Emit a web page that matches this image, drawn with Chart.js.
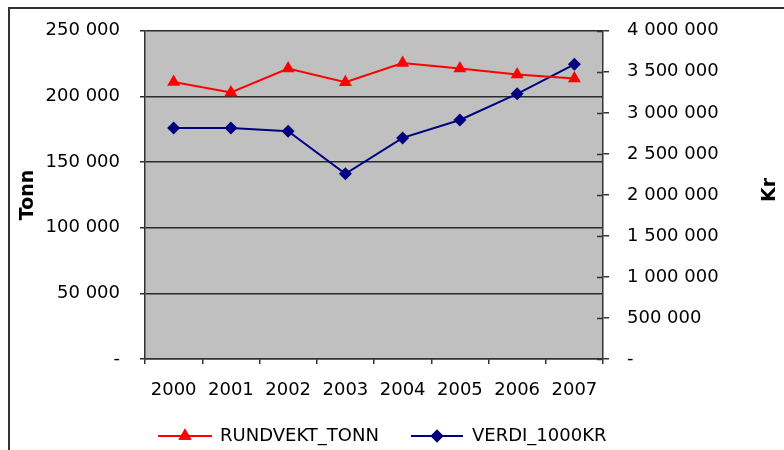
<!DOCTYPE html>
<html>
<head>
<meta charset="utf-8">
<script src="https://cdn.jsdelivr.net/npm/chart.js@4/dist/chart.umd.min.js"></script>
<style>
  html, body { margin: 0; padding: 0; background: #fff; }
  #wrap { width: 784px; height: 450px; position: relative; }
</style>
</head>
<body>
<div id="wrap"><canvas id="chart"></canvas></div>
<script>
'use strict';

// data
var years = ['2000', '2001', '2002', '2003', '2004', '2005', '2006', '2007'];
var rundvektTonn = [211000, 203000, 221200, 210800, 225400, 221200, 216700, 213600];
var verdi1000kr = [2816000, 2816000, 2776000, 2258000, 2695000, 2913000, 3232000, 3592000];

var leftTicks = { min: 0, max: 250000, step: 50000 };
var rightTicks = { min: 0, max: 4000000, step: 500000 };
var leftTitle = 'Tonn';
var rightTitle = 'Kr';

var FONT = 'DejaVu Sans';
var RED = '#ff0000';
var NAVY = '#000080';

function fmt(v) {
    if (v === 0) return '-';
    return String(v).replace(/\B(?=(\d{3})+(?!\d))/g, ' ');
}

var decor = {
    id: 'decor',
    beforeDraw: function (chart) {
        var ctx = chart.ctx, a = chart.chartArea;
        ctx.save();
        ctx.fillStyle = '#c0c0c0';
        ctx.fillRect(a.left, a.top, a.right - a.left, a.bottom - a.top);
        ctx.restore();
    },
    afterDraw: function (chart) {
        var ctx = chart.ctx, a = chart.chartArea;
        ctx.save();
        // outer frame, runs off the right and bottom edges
        ctx.strokeStyle = '#333';
        ctx.lineWidth = 2;
        ctx.strokeRect(9, 8, 820, 480);

        // right axis tick marks also poke into the plot
        var s2 = chart.scales.y2;
        ctx.strokeStyle = '#333';
        ctx.lineWidth = 1.5;
        s2.ticks.forEach(function (t) {
            var py = Math.round(s2.getPixelForValue(t.value)) + 0.5;
            ctx.beginPath();
            ctx.moveTo(a.right - 6, py);
            ctx.lineTo(a.right, py);
            ctx.stroke();
        });

        // axis titles
        ctx.fillStyle = '#000';
        ctx.font = 'bold 19px ' + FONT;
        ctx.textAlign = 'center';
        ctx.textBaseline = 'middle';
        ctx.save();
        ctx.translate(28, 195);
        ctx.rotate(-Math.PI / 2);
        ctx.fillText(leftTitle, 0, 0);
        ctx.restore();
        ctx.save();
        ctx.translate(770, 190);
        ctx.rotate(-Math.PI / 2);
        ctx.fillText(rightTitle, 0, 0);
        ctx.restore();

        // legend: line with marker in the middle, then the label
        var y = 436;
        var items = [
            { x0: 158, x1: 212, tx: 220, ds: chart.data.datasets[0] },
            { x0: 411, x1: 463, tx: 472, ds: chart.data.datasets[1] }
        ];
        ctx.font = '18px ' + FONT;
        ctx.textAlign = 'left';
        items.forEach(function (it) {
            ctx.strokeStyle = it.ds.borderColor;
            ctx.lineWidth = 2;
            ctx.beginPath();
            ctx.moveTo(it.x0, y);
            ctx.lineTo(it.x1, y);
            ctx.stroke();
            ctx.fillStyle = it.ds.borderColor;
            Chart.helpers.drawPoint(ctx, {
                pointStyle: it.ds.pointStyle,
                radius: it.ds.pointRadius,
                rotation: 0,
                borderWidth: 0
            }, (it.x0 + it.x1) / 2, y);
            ctx.fill();
            ctx.fillStyle = '#000';
            ctx.fillText(it.ds.label, it.tx, y);
        });
        ctx.restore();
    }
};

var ctx = document.getElementById('chart').getContext('2d');
new Chart(ctx, {
    type: 'line',
    data: {
        labels: years,
        datasets: [{
            label: 'RUNDVEKT_TONN',
            data: rundvektTonn,
            yAxisID: 'y',
            borderColor: RED,
            backgroundColor: RED,
            borderWidth: 2,
            pointStyle: 'triangle',
            pointRadius: 7.5,
            pointBorderWidth: 0,
            tension: 0
        }, {
            label: 'VERDI_1000KR',
            data: verdi1000kr,
            yAxisID: 'y2',
            borderColor: NAVY,
            backgroundColor: NAVY,
            borderWidth: 2,
            pointStyle: 'rectRot',
            pointRadius: 6.5,
            pointBorderWidth: 0,
            tension: 0
        }]
    },
    options: {
        responsive: true,
        maintainAspectRatio: false,
        animation: false,
        layout: { padding: { top: 29, left: 0, right: 0, bottom: 0 } },
        plugins: {
            legend: { display: false },
            tooltip: { enabled: false }
        },
        scales: {
            x: {
                offset: true,
                grid: { offset: true, drawOnChartArea: false, drawTicks: true, tickLength: 5, color: '#333', lineWidth: 1.5 },
                border: { color: '#333', width: 1.5 },
                ticks: { color: '#000', font: { family: FONT, size: 18 }, padding: 16, maxRotation: 0 },
                afterFit: function (s) { s.height = 91; }
            },
            y: {
                position: 'left',
                min: leftTicks.min,
                max: leftTicks.max,
                grid: { color: '#2a2a2a', lineWidth: 1.5, tickLength: 5 },
                border: { color: '#333', width: 1.5 },
                ticks: {
                    stepSize: leftTicks.step,
                    color: '#000',
                    font: { family: FONT, size: 18 },
                    padding: 20,
                    callback: function (v) { return fmt(v); }
                },
                afterFit: function (s) { s.width = 145; }
            },
            y2: {
                position: 'right',
                min: rightTicks.min,
                max: rightTicks.max,
                grid: { drawOnChartArea: false, color: '#333', lineWidth: 1.5, tickLength: 6 },
                border: { color: '#333', width: 1.5 },
                ticks: {
                    stepSize: rightTicks.step,
                    color: '#000',
                    font: { family: FONT, size: 18 },
                    padding: 18,
                    callback: function (v) { return fmt(v); }
                },
                afterFit: function (s) { s.width = 181; }
            }
        }
    },
    plugins: [decor]
});
</script>
</body>
</html>
